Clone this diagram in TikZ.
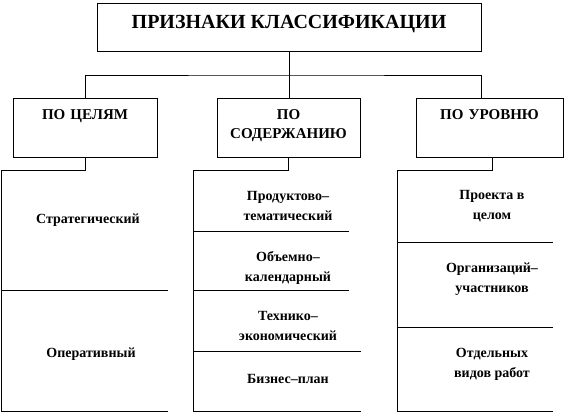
\documentclass[tikz,border=0pt]{standalone}
\usepackage{fontspec}
\setmainfont{Liberation Serif}
\usetikzlibrary{positioning,calc}

\tikzset{
  rule/.style={draw=black,line width=0.9pt},
  headbox/.style={rule,fill=white,font=\bfseries\fontsize{20}{22}\selectfont,
    text height=13.5pt,text depth=10pt},
  catbox/.style={rule,fill=white,align=center,text width=136pt,minimum width=144pt,minimum height=59pt,
    font=\bfseries\fontsize{15}{19}\selectfont,text height=10pt,text depth=27pt},
  celltext/.style={align=center,font=\bfseries\fontsize{14}{20}\selectfont}
}

\begin{document}
\begin{tikzpicture}[x=1pt,y=-1pt]
        \useasboundingbox (0,0) rectangle (568,412);
        % title and the three groups
        \node[headbox,minimum width=384pt,minimum height=48pt] (head) at (289,27) {ПРИЗНАКИ КЛАССИФИКАЦИИ};
        \node[catbox] (goal) at (85,127.5) {ПО ЦЕЛЯМ};
        \node[catbox,minimum width=143pt] (content) at (288.5,127.5) {ПО\\СОДЕРЖАНИЮ};
        \node[catbox,minimum width=147pt] (level) at (489.5,127.5) {ПО УРОВНЮ};
        \coordinate (bus) at (289,75);
        \draw[rule] (head.south) -- (head.south |- content.north);
        \draw[rule] (goal.north) |- (bus) -| ([xshift=-8.5pt]level.north);

        % columns below the groups
        \coordinate (gcol) at (1,170);
        \coordinate (ccol) at (193,170);
        \coordinate (lcol) at (397,170);
        \draw[rule] (goal.south) |- (gcol) -- (1,411) -- (168,411);
        \draw[rule] (content.south) |- (ccol) -- (193,411) -- (361,411);
        \draw[rule] ([xshift=2.5pt]level.south) |- (lcol) -- (397,411) -- (553,411);
        \draw[rule] (1,290) -- (168,290);
        \draw[rule] (193,231) -- (349,231) (193,290) -- (349,290) (193,351) -- (361,351);
        \draw[rule] (397,242) -- (553,242) (397,327) -- (553,327);

        \node[celltext] (strat) at (88,220) {Стратегический};
        \node[celltext] (oper) at (91,354) {Оперативный};
        \node[celltext] (prod) at (288,206) {Продуктово–\\тематический};
        \node[celltext] (vol) at (288,268) {Объемно–\\календарный};
        \node[celltext] (tech) at (288,326) {Технико–\\экономический};
        \node[celltext] (biz) at (288,379) {Бизнес–план};
        \node[celltext] (proj) at (492,206) {Проекта в\\целом};
        \node[celltext] (org) at (492,279) {Организаций–\\участников};
        \node[celltext] (works) at (492,364) {Отдельных\\видов работ};
      \end{tikzpicture}
\end{document}
